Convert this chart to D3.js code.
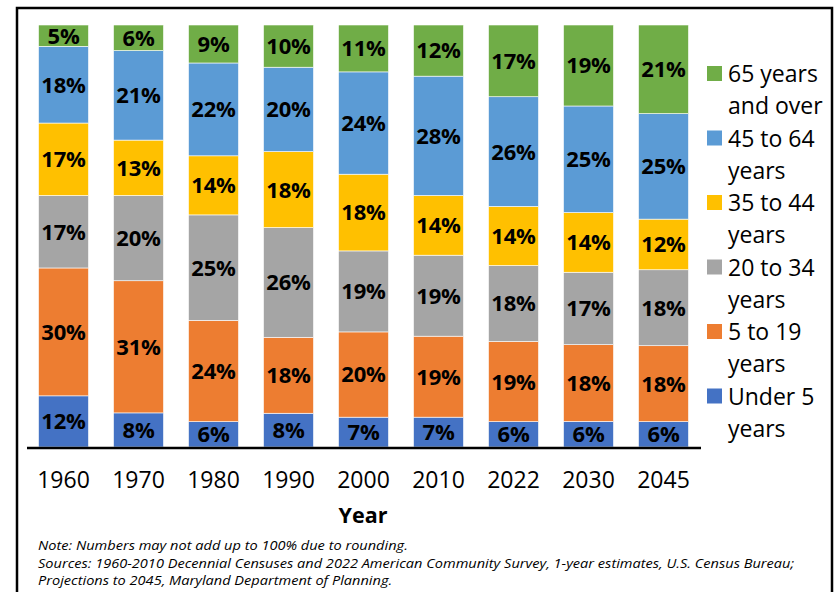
<!DOCTYPE html>
<html><head><meta charset="utf-8">
<script src="https://cdn.jsdelivr.net/npm/d3@7"></script>
<style>body{margin:0;background:#fff}svg{display:block}text{font-family:"Open Sans",Lato,sans-serif}</style>
</head><body><svg id="c" width="835" height="592"></svg>
<script>
const years = ["1960","1970","1980","1990","2000","2010","2022","2030","2045"];
const groups = ["Under 5 years","5 to 19 years","20 to 34 years","35 to 44 years","45 to 64 years","65 years and over"];
const under5 = [12,8,6,8,7,7,6,6,6];
const age5to19 = [30,31,24,18,20,19,19,18,18];
const age20to34 = [17,20,25,26,19,19,18,17,18];
const age35to44 = [17,13,14,18,18,14,14,14,12];
const age45to64 = [18,21,22,20,24,28,26,25,25];
const age65plus = [5,6,9,10,11,12,17,19,21];
const colors = ["#4472C4","#ED7D31","#A5A5A5","#FFC000","#5B9BD5","#70AD47"];
const legendLines = [["Under 5","years"],["5 to 19","years"],["20 to 34","years"],["35 to 44","years"],["45 to 64","years"],["65 years","and over"]];
const notes = ["Note: Numbers may not add up to 100% due to rounding.",
 "Sources: 1960-2010 Decennial Censuses and 2022 American Community Survey, 1-year estimates, U.S. Census Bureau;",
 "Projections to 2045, Maryland Department of Planning."];

const seriesVals = [under5, age5to19, age20to34, age35to44, age45to64, age65plus];
const table = years.map((y,i)=>{const o={year:y}; groups.forEach((g,k)=>o[g]=seriesVals[k][i]); return o;});
const stack = d3.stack().keys(groups).offset(d3.stackOffsetExpand)(table);

const svg = d3.select("#c");
// frame
svg.append("rect").attr("x",17).attr("y",8).attr("width",815).attr("height",600)
  .attr("fill","none").attr("stroke","#000").attr("stroke-width",2.5);

const x = d3.scaleBand().domain(years).range([26,701]).paddingInner(1/3).paddingOuter(1/6);
const y = d3.scaleLinear().domain([0,1]).range([447,25]);

const g = svg.append("g");
stack.forEach((s,k)=>{
  const gg = g.append("g").attr("fill",colors[k]);
  gg.selectAll("rect").data(s).join("rect")
    .attr("x",d=>x(d.data.year)).attr("width",x.bandwidth())
    .attr("y",d=>y(d[1])).attr("height",d=>y(d[0])-y(d[1]))
    .attr("stroke","#fff").attr("stroke-width",0.6);
  gg.selectAll("text").data(s).join("text")
    .attr("x",d=>x(d.data.year)+x.bandwidth()/2)
    .attr("y",d=>(y(d[0])+y(d[1]))/2)
    .attr("dy","0.36em").attr("text-anchor","middle")
    .attr("font-weight","bold").attr("font-size",22).attr("fill","#000")
    .attr("letter-spacing",-0.2)
    .text(d=>d.data[groups[k]]+"%");
});

// axis
const ax = svg.append("g").attr("transform","translate(0,448)")
  .call(d3.axisBottom(x).tickSize(0).tickPadding(24));
ax.selectAll(".domain").attr("stroke","#000").attr("stroke-width",2.5).attr("d","M27,0H701");
ax.selectAll("text").attr("font-size",23).attr("fill","#000").attr("font-family","'Open Sans',sans-serif");

svg.append("text").attr("x",363).attr("y",523).attr("text-anchor","middle")
  .attr("font-weight","bold").attr("font-size",21.5).text("Year");

// legend
const lg = svg.append("g");
groups.slice().reverse().forEach((gname,i)=>{
  const k = groups.length-1-i;
  const ty = 82 + i*64.5;
  lg.append("rect").attr("x",707).attr("y",ty-16).attr("width",15).attr("height",15).attr("fill",colors[k]);
  const t = lg.append("text").attr("x",728).attr("y",ty).attr("font-size",23).attr("fill","#000");
  legendLines[k].forEach((ln,j)=>t.append("tspan").attr("x",728).attr("dy",j?32:0).text(ln));
});

// notes (slightly condensed vertically to match the narrow original typeface)
notes.forEach((n,i)=>svg.append("text")
  .attr("transform",`translate(38,${550+i*17.6}) scale(1.12,1)`)
  .attr("font-style","italic").attr("font-size",13).attr("fill","#000").text(n));
</script></body></html>
